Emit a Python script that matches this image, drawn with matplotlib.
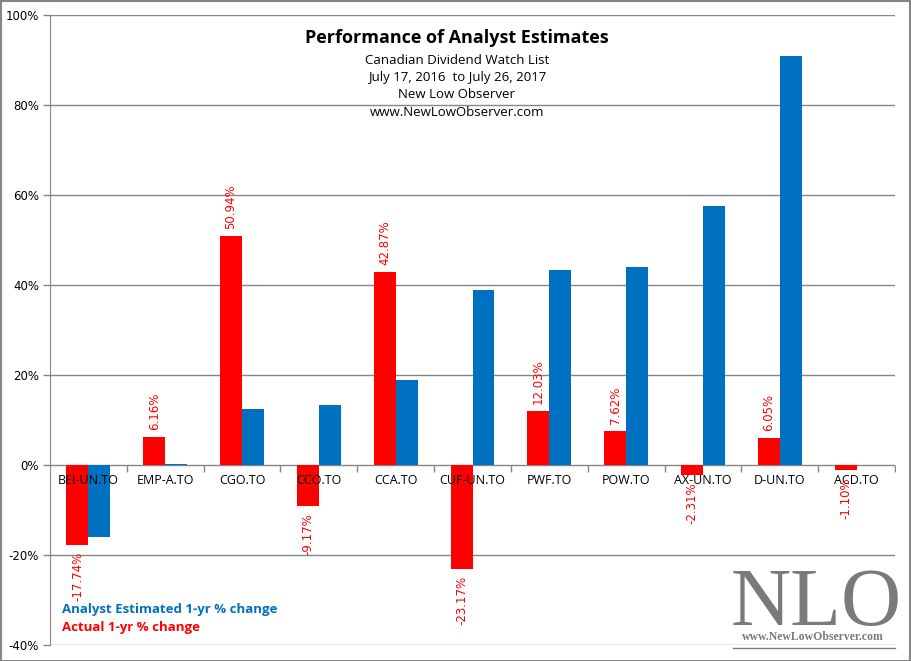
import numpy as np
import matplotlib.pyplot as plt
from matplotlib.patches import Rectangle
from matplotlib.lines import Line2D
import matplotlib.transforms as mtransforms

tickers = ['BEI-UN.TO', 'EMP-A.TO', 'CGO.TO', 'CCO.TO', 'CCA.TO', 'CUF-UN.TO',
           'PWF.TO', 'POW.TO', 'AX-UN.TO', 'D-UN.TO', 'ACD.TO']
actual = [-17.74, 6.16, 50.94, -9.17, 42.87, -23.17, 12.03, 7.62, -2.31, 6.05, -1.10]
estimated = [-16.0, 0.3, 12.4, 13.3, 18.9, 38.9, 43.3, 44.0, 57.6, 90.9, 0.0]
yticks = [-40, -20, 0, 20, 40, 60, 80, 100]

red = '#FF0000'
blue = '#0070C0'
gray = '#868686'

fig = plt.figure(figsize=(9.11, 6.61), dpi=100)
W, H = 911, 661
ax = fig.add_axes([50 / W, 16 / H, 845 / W, 630 / H])

x = np.arange(len(tickers))
bw = 0.286
ax.bar(x - bw / 2, actual, bw, color=red, zorder=2)
ax.bar(x + bw / 2, estimated, bw, color=blue, zorder=2)

ax.set_xlim(-0.5, len(tickers) - 0.5)
ax.set_ylim(-40, 100)
ax.set_yticks(yticks)
ax.set_yticklabels([f'{v}%' for v in yticks], fontsize=8.5, family='DejaVu Sans')
for v in yticks:
    ax.axhline(v, color=gray, lw=1, zorder=1)

for s in ['top', 'right', 'bottom']:
    ax.spines[s].set_visible(False)
ax.spines['left'].set_color(gray)
ax.tick_params(axis='y', color=gray, length=5, width=1, pad=3)

# category boundary ticks on the zero line
ax.set_xticks([])
tick_mark = [(0, 0), (0, -1)]
for b in np.arange(0.5, len(tickers) + 0.5, 1.0):
    ax.plot([b], [0], marker=tick_mark, markersize=10, markeredgecolor=gray,
            markeredgewidth=1, zorder=3)

offset_down = mtransforms.offset_copy(ax.transData, fig=fig, x=0, y=-11, units='points')
for i, t in enumerate(tickers):
    ax.text(i, 0, t, transform=offset_down, ha='center', va='center',
            fontsize=9, family='Open Sans', color='black', zorder=4)

for i, v in enumerate(actual):
    if v >= 0:
        tr = mtransforms.offset_copy(ax.transData, fig=fig, x=0, y=5, units='points')
        ax.text(x[i] - bw / 2, v, f'{v:.2f}%', transform=tr, rotation=90, ha='center',
                va='bottom', color=red, fontsize=8.5, family='DejaVu Sans', zorder=4)
    else:
        tr = mtransforms.offset_copy(ax.transData, fig=fig, x=0, y=-5, units='points')
        ax.text(x[i] - bw / 2, v, f'{v:.2f}%', transform=tr, rotation=90, ha='center',
                va='top', color=red, fontsize=8.5, family='DejaVu Sans', zorder=4)

# titles
fig.text(457 / W, 1 - 38 / H, 'Performance of Analyst Estimates', ha='center', va='center',
         fontsize=13, fontweight='bold', family='Open Sans')
subs = ['Canadian Dividend Watch List', 'July 17, 2016  to July 26, 2017',
        'New Low Observer', 'www.NewLowObserver.com']
for k, s in enumerate(subs):
    fig.text(457 / W, 1 - (60 + k * 17.5) / H, s, ha='center', va='center',
             fontsize=9.5, family='Open Sans')

# legend text
fig.text(62 / W, 1 - 610 / H, 'Analyst Estimated 1-yr % change', color=blue,
         fontsize=9.5, fontweight='bold', family='Open Sans', va='center')
fig.text(62 / W, 1 - 628 / H, 'Actual 1-yr % change', color=red,
         fontsize=9.5, fontweight='bold', family='Open Sans', va='center')

# watermark
fig.text(816 / W, 1 - 605 / H, 'NLO', ha='center', va='center', fontsize=60,
         family='Liberation Serif', color='#7a7a7a')
fig.text(813 / W, 1 - 637 / H, 'www.NewLowObserver.com', ha='center', va='center',
         fontsize=8.5, fontweight='bold', family='Liberation Serif', color='#7a7a7a')
fig.add_artist(Line2D([733 / W, 895 / W], [1 - 648 / H, 1 - 648 / H], color='#7a7a7a', lw=1))

fig.add_artist(Rectangle((0.5 / W, 0.5 / H), 1 - 1.5 / W, 1 - 1.5 / H, fill=False,
                         edgecolor=gray, lw=1.5, transform=fig.transFigure))

fig.savefig('out.png', dpi=100)
